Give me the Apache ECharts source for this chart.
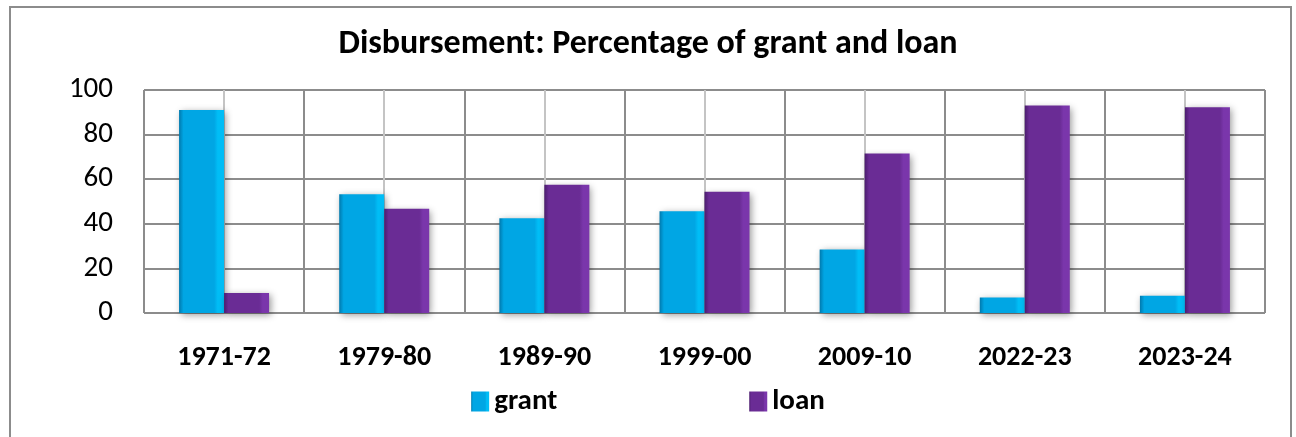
<!DOCTYPE html>
<html>
<head>
<meta charset="utf-8">
<title>Disbursement: Percentage of grant and loan</title>
<script src="https://cdn.jsdelivr.net/npm/echarts@6/dist/echarts.min.js"></script>
<style>
html, body { margin: 0; padding: 0; background: #fff; }
#chart { width: 1296px; height: 437px; }
</style>
</head>
<body>
<div id="chart"></div>
<script>
// data
var years = ['1971-72', '1979-80', '1989-90', '1999-00', '2009-10', '2022-23', '2023-24'];
var grant = [91, 53.3, 42.5, 45.6, 28.5, 7, 7.7];
var loan = [9, 46.7, 57.5, 54.4, 71.5, 93, 92.3];
var yTicks = [0, 20, 40, 60, 80, 100];

var FONT = "Carlito, 'Liberation Sans Narrow', 'Open Sans', sans-serif";

// bevel-ish look: dark left edge, lighter right strip
function bevel(dark, main, light) {
    return new echarts.graphic.LinearGradient(0, 0, 1, 0, [
        { offset: 0, color: dark },
        { offset: 0.1, color: main },
        { offset: 0.78, color: main },
        { offset: 0.86, color: light },
        { offset: 1, color: light }
    ]);
}

var chart = echarts.init(document.getElementById('chart'));
var options = {
    animation: false,
    title: {
        text: 'Disbursement: Percentage of grant and loan',
        left: 'center',
        top: 22,
        textStyle: { fontFamily: FONT, fontWeight: 'bold', fontSize: 34, color: '#000' }
    },
    graphic: [{
        type: 'rect',
        shape: { x: 10, y: 7, width: 1281, height: 450 },
        style: { fill: 'none', stroke: '#8c8c8c', lineWidth: 2 },
        silent: true
    }],
    legend: {
        data: ['grant', 'loan'],
        left: 'center',
        top: 382,
        icon: 'rect',
        itemWidth: 18,
        itemHeight: 20,
        itemGap: 192,
        textStyle: { fontFamily: FONT, fontWeight: 'bold', fontSize: 29, color: '#000' }
    },
    grid: { left: 144, right: 31, top: 90, bottom: 124 },
    xAxis: [
        {
            type: 'category',
            data: years,
            axisTick: { show: false },
            axisLine: { show: false },
            splitLine: { show: false },
            axisLabel: { margin: 31, fontFamily: FONT, fontWeight: 'bold', fontSize: 28, color: '#000' }
        },
        {
            // half-category lines: boundaries dark, centers light
            type: 'value',
            min: 0,
            max: years.length * 2,
            interval: 1,
            show: true,
            axisLine: { show: false },
            axisTick: { show: false },
            axisLabel: { show: false },
            splitLine: { show: true, lineStyle: { color: ['#8c8c8c', '#c4c4c4'], width: 2 } }
        }
    ],
    yAxis: {
        type: 'value',
        min: yTicks[0],
        max: yTicks[yTicks.length - 1],
        interval: 20,
        axisLine: { show: false },
        axisTick: { show: false },
        axisLabel: { margin: 31, fontFamily: FONT, fontSize: 29, color: '#000' },
        splitLine: { lineStyle: { color: '#8c8c8c', width: 2 } }
    },
    series: [
        {
            name: 'grant',
            type: 'bar',
            xAxisIndex: 0,
            data: grant,
            barWidth: 45,
            barGap: '0%',
            itemStyle: {
                color: bevel('#0079ad', '#00a6e4', '#00bdf6'),
                shadowColor: 'rgba(0,0,0,0.4)',
                shadowBlur: 7,
                shadowOffsetX: 2,
                shadowOffsetY: 2
            },
            z: 3
        },
        {
            name: 'loan',
            type: 'bar',
            xAxisIndex: 0,
            data: loan,
            barWidth: 45,
            barGap: '0%',
            itemStyle: {
                color: bevel('#4b1c6e', '#6a2c95', '#7a36ab'),
                shadowColor: 'rgba(0,0,0,0.4)',
                shadowBlur: 7,
                shadowOffsetX: 2,
                shadowOffsetY: 2
            },
            z: 3
        }
    ]
};
chart.setOption(options);
</script>
</body>
</html>
